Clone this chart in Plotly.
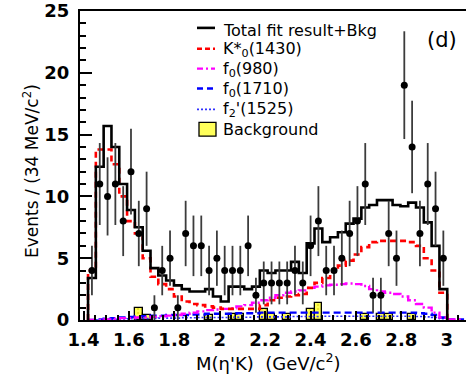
import numpy as np
import plotly.graph_objects as go

# ---------------- data ----------------
BIN_START = 1.420      # GeV/c^2, lower edge of first bin
BIN_WIDTH = 0.0344     # ~34 MeV/c^2

data_counts = [4, 11, 10, 11, 8, 12, 7, 9, 1, 4, 5, 1, 7, 6, 6, 4, 5, 4, 4, 4,
               6, 2, 3, 3, 3, 3, 4, 3, 6, 8, 4, 4, 5, 7, 8, 11, 2, 2, 7, 5,
               19, 14, 7, 11, 9, 5]

total_fit = [3.4, 12.4, 15.7, 14.0, 11.0, 8.9, 7.5, 5.6, 4.2, 3.6, 3.2, 2.8, 2.5, 2.3, 2.3, 2.5,
             1.9, 1.5, 2.7, 2.7, 2.5, 2.7, 4.0, 3.8, 4.0, 4.0, 4.7, 3.8, 6.2, 7.4, 6.3, 6.7,
             7.1, 7.8, 8.2, 9.1, 9.3, 9.7, 9.7, 9.3, 9.2, 9.5, 9.1, 7.9, 6.0, 2.5]

k0_1430 = [4.0, 13.8, 13.8, 12.6, 10.0, 8.0, 7.0, 5.0, 3.5, 2.9, 2.5, 1.9, 1.5, 1.3, 1.2, 1.1,
           1.0, 0.9, 0.9, 0.9, 0.9, 0.9, 1.2, 1.6, 1.8, 1.9, 2.0, 2.1, 2.6, 3.0, 3.4, 3.9,
           4.4, 4.8, 5.3, 5.9, 6.3, 6.4, 6.4, 6.4, 6.4, 6.3, 6.0, 5.0, 4.0, 2.2]

f0_980 = [0.0, 0.0, 0.05, 0.1, 0.15, 0.15, 0.2, 0.2, 0.25, 0.3, 0.35, 0.4, 0.5, 0.6, 0.7, 0.8,
          0.85, 0.9, 0.95, 1.1, 1.2, 1.4, 1.6, 1.8, 2.0, 2.2, 2.3, 2.4, 2.6, 2.7, 2.8, 2.85,
          2.9, 2.95, 2.9, 2.75, 2.5, 2.3, 2.2, 2.1, 1.9, 1.6, 1.3, 1.0, 0.6, 0.2, 0.05, 0.05]

f0_1710 = [0.0, 0.05, 0.1, 0.15, 0.2, 0.25, 0.3, 0.3, 0.35, 0.35, 0.4, 0.4, 0.4, 0.45, 0.45, 0.5,
           0.5, 0.5, 0.5, 0.55, 0.55, 0.55, 0.6, 0.6, 0.6, 0.6, 0.6, 0.6, 0.6, 0.6, 0.6, 0.6,
           0.6, 0.6, 0.6, 0.6, 0.6, 0.6, 0.6, 0.6, 0.6, 0.6, 0.55, 0.5, 0.4, 0.2, 0.05, 0.05]

f2p_1525 = [0.0, 0.02, 0.05, 0.05, 0.08, 0.1, 0.1, 0.12, 0.12, 0.15, 0.15, 0.15, 0.18, 0.18, 0.2, 0.2,
            0.2, 0.2, 0.22, 0.22, 0.22, 0.25, 0.25, 0.25, 0.25, 0.25, 0.28, 0.28, 0.28, 0.28, 0.3, 0.3,
            0.3, 0.3, 0.3, 0.3, 0.3, 0.3, 0.3, 0.3, 0.3, 0.3, 0.28, 0.25, 0.2, 0.1]

background = [0, 0, 0, 0, 0, 0, 1.0, 0.4, 0, 0, 0, 0, 0, 0, 0, 0.4,
              0, 0, 0.45, 0.45, 0, 0, 0.9, 0.45, 0, 0.45, 0, 0, 0.9, 1.35, 0, 0,
              0, 0, 0, 0.45, 0, 0.45, 0.45, 0, 0, 0.45, 0, 0, 0, 0]

x_ticks = [1.4, 1.6, 1.8, 2.0, 2.2, 2.4, 2.6, 2.8, 3.0]
x_ticklabels = ["1.4", "1.6", "1.8", "2", "2.2", "2.4", "2.6", "2.8", "3"]
y_ticks = [0, 5, 10, 15, 20, 25]

legend_labels = ["Total fit result+Bkg", "K*<sub>0</sub>(1430)", "f<sub>0</sub>(980)",
                 "f<sub>0</sub>(1710)", "f<sub>2</sub>'(1525)", "Background"]

# ---------------- helpers ----------------
def edges(n):
    return [BIN_START + BIN_WIDTH * i for i in range(n + 1)]

def step_xy(values):
    e = edges(len(values))
    xs = [e[0]] + e[:-1] + [e[-1]]
    ys = [0.0] + list(values) + [0.0]
    return xs, ys

def centers(n):
    return [BIN_START + BIN_WIDTH * (i + 0.5) for i in range(n)]

X_RANGE = [1.3846, 3.085]
Y_RANGE = [0, 25]
FONT = "DejaVu Sans"

fig = go.Figure()

# background histogram
bc = centers(len(background))
fig.add_trace(go.Bar(
    x=bc, y=[v if v > 0 else None for v in background], width=BIN_WIDTH,
    marker=dict(color="#ffff5a", line=dict(color="black", width=1.3),
                pattern=dict(shape=".", fgcolor="#d6c800", size=4, solidity=0.3)),
    showlegend=False, hoverinfo="skip"))

# components
comp_styles = [
    (f2p_1525, "#3030ff", "2px,2px", 1.6),
    (f0_1710, "#0000ff", "7px,4px", 2.4),
    (f0_980, "#ff00ff", "8px,3px,2px,3px", 2.4),
    (k0_1430, "#ff0000", "6px,4px", 2.6),
]
for vals, col, dash, w in comp_styles:
    xs, ys = step_xy(vals)
    fig.add_trace(go.Scatter(x=xs, y=ys, mode="lines", line_shape="hv",
                             line=dict(color=col, width=w, dash=dash),
                             showlegend=False, hoverinfo="skip"))

# total fit
xs, ys = step_xy(total_fit)
fig.add_trace(go.Scatter(x=xs, y=ys, mode="lines", line_shape="hv",
                         line=dict(color="black", width=2.6),
                         showlegend=False, hoverinfo="skip"))

# data points
dc = centers(len(data_counts))
fig.add_trace(go.Scatter(
    x=dc, y=data_counts, mode="markers",
    marker=dict(color="black", size=7),
    error_y=dict(type="data", array=list(np.sqrt(np.array(data_counts, dtype=float))),
                 color="#3c3c3c", thickness=1.8, width=0),
    showlegend=False, hoverinfo="skip"))

# ---------------- manual legend ----------------
PL, PR, PT, PB = 80, 466, 9, 320
def px(x):
    return (x - PL) / (PR - PL)
def py(y):
    return (PB - y) / (PB - PT)

shapes = []
annotations = []
rows_text = [29, 48, 68, 88, 108, 128]
rows_line = [26, 47, 67, 87, 108]
line_styles = [("black", "solid", 2.6), ("#ff0000", "5px,3px", 2.4), ("#ff00ff", "6px,3px,2px,3px", 2.4),
               ("#0000ff", "6px,4px", 2.4), ("#3030ff", "2px,2px", 1.6)]
for (col, dash, w), yl in zip(line_styles, rows_line):
    shapes.append(dict(type="line", xref="paper", yref="paper", x0=px(197), x1=px(215),
                       y0=py(yl), y1=py(yl), line=dict(color=col, width=w, dash=dash)))
shapes.append(dict(type="rect", xref="paper", yref="paper", x0=px(199), x1=px(216),
                   y0=py(135), y1=py(121), fillcolor="#ffff5a", line=dict(color="black", width=1.3)))
for lab, yt in zip(legend_labels, rows_text):
    annotations.append(dict(text=lab, xref="paper", yref="paper", x=px(221), y=py(yt),
                            xanchor="left", yanchor="middle", showarrow=False,
                            font=dict(family=FONT, size=16, color="black")))

annotations.append(dict(text="(d)", xref="paper", yref="paper", x=px(442), y=py(38),
                        xanchor="center", yanchor="middle", showarrow=False,
                        font=dict(family=FONT, size=21, color="black")))
# axis titles
annotations.append(dict(text="Events / (34 MeV/c<sup>2</sup>)", xref="paper", yref="paper",
                        x=px(31), y=py(170), xanchor="center", yanchor="middle", textangle=-90,
                        showarrow=False, font=dict(family=FONT, size=17, color="black")))
annotations.append(dict(text="M(η'K)  (GeV/c<sup>2</sup>)", xref="paper", yref="paper",
                        x=px(268), y=py(362), xanchor="center", yanchor="middle",
                        showarrow=False, font=dict(family=FONT, size=18, color="black")))

fig.update_layout(
    width=466, height=377,
    margin=dict(l=PL, r=466 - PR, t=PT, b=377 - PB),
    paper_bgcolor="white", plot_bgcolor="white",
    barmode="overlay", bargap=0,
    shapes=shapes, annotations=annotations,
    showlegend=False,
    xaxis=dict(range=X_RANGE, tickvals=x_ticks, ticktext=x_ticklabels,
               ticks="inside", ticklen=9, tickwidth=1.5, tickcolor="black",
               minor=dict(dtick=0.05, tick0=1.4, ticks="inside", ticklen=5, tickcolor="black"),
               showline=True, linecolor="black", linewidth=1.8, mirror=True,
               showgrid=False, zeroline=False, ticklabelstandoff=2, ticklabeloverflow="allow",
               tickfont=dict(family=FONT, size=18, color="black", weight="bold")),
    yaxis=dict(range=Y_RANGE, tickvals=y_ticks,
               ticks="inside", ticklen=12, tickwidth=1.8, tickcolor="black",
               minor=dict(dtick=1, tick0=0, ticks="inside", ticklen=6, tickcolor="black"),
               showline=True, linecolor="black", linewidth=2, mirror=False,
               showgrid=False, zeroline=False, ticklabelstandoff=5, ticklabeloverflow="allow",
               tickfont=dict(family=FONT, size=18, color="black", weight="bold")),
)

fig.write_html("out.html", config={"displayModeBar": False},
               post_script="document.body.style.margin='0';document.body.style.padding='0';"
                           "document.body.style.overflow='hidden';")
